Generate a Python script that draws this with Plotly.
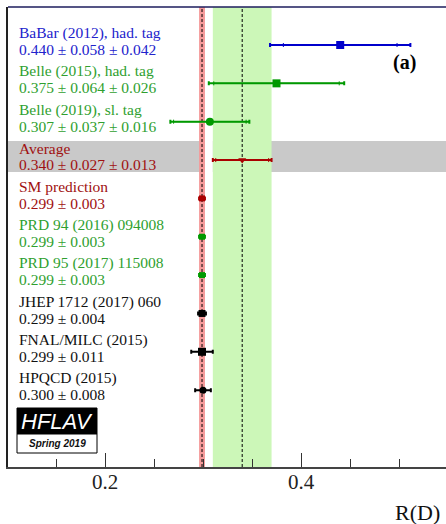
import math
import plotly.graph_objects as go

# ---------------- data ----------------
names = ["BaBar (2012), had. tag", "Belle (2015), had. tag", "Belle (2019), sl. tag",
         "Average", "SM prediction", "PRD 94 (2016) 094008", "PRD 95 (2017) 115008",
         "JHEP 1712 (2017) 060", "FNAL/MILC (2015)", "HPQCD (2015)"]
values = [0.440, 0.375, 0.307, 0.340, 0.299, 0.299, 0.299, 0.299, 0.299, 0.300]
stat = [0.058, 0.064, 0.037, 0.027, 0.003, 0.003, 0.003, 0.004, 0.011, 0.008]
syst = [0.042, 0.026, 0.016, 0.013, None, None, None, None, None, None]
text_colors = ["#2222cc", "#2f9f2f", "#2f9f2f", "#a01010", "#a01010", "#2f9f2f",
               "#2f9f2f", "#111111", "#111111", "#111111"]
mark_colors = ["#0000cc", "#009900", "#009900", "#aa0000", "#aa0000", "#009900",
               "#009900", "#000000", "#000000", "#000000"]
symbols = ["square", "square", "circle", "triangle-down", "square", "square",
           "square", "square", "square", "circle"]
msizes = [8, 8, 8, 7, 6, 6, 6, 7, 8, 7]

avg_val, avg_stat, avg_syst = 0.340, 0.027, 0.013
sm_val, sm_err = 0.299, 0.003

W, H = 446, 524
L, R, T, B = 8, 0, 7, 57
PW, PH = W - L - R, H - T - B


def px(x):
    return (x - L) / PW


def py(y):
    return (H - B - y) / PH


fig = go.Figure()

serif = "Liberation Serif, Times New Roman, serif"

for i, n in enumerate(names):
    v = values[i]
    tot = math.sqrt(stat[i] ** 2 + (syst[i] or 0) ** 2)
    fig.add_trace(go.Scatter(
        x=[v], y=[i], mode="markers",
        marker=dict(symbol=symbols[i], size=msizes[i], color=mark_colors[i]),
        error_x=dict(type="data", array=[tot], visible=True, color=mark_colors[i],
                     thickness=2, width=2),
        showlegend=False, hoverinfo="skip"))
    if syst[i] is not None:
        fig.add_trace(go.Scatter(
            x=[v], y=[i], mode="markers", marker=dict(size=1, color=mark_colors[i]),
            error_x=dict(type="data", array=[stat[i]], visible=True, color=mark_colors[i],
                         thickness=1, width=2),
            showlegend=False, hoverinfo="skip"))
        vt = f"{v:.3f} ± {stat[i]:.3f} ± {syst[i]:.3f}"
    else:
        vt = f"{v:.3f} ± {stat[i]:.3f}"
    fig.add_annotation(x=px(17), xref="paper", y=i - 0.31, yref="y", text=n,
                       xanchor="left", yanchor="middle", showarrow=False,
                       font=dict(family=serif, size=15.5, color=text_colors[i]))
    fig.add_annotation(x=px(17), xref="paper", y=i + 0.12, yref="y", text=vt,
                       xanchor="left", yanchor="middle", showarrow=False,
                       font=dict(family=serif, size=15.5, color=text_colors[i]))

avg_tot = math.sqrt(avg_stat ** 2 + avg_syst ** 2)
shapes = [
    # average row band
    dict(type="rect", xref="paper", x0=0, x1=1, yref="y", y0=2.5, y1=3.31,
         fillcolor="#c9c9c9", line_width=0, layer="below"),
    # white gap between SM band and average band
    dict(type="rect", xref="x", x0=sm_val + sm_err, x1=avg_val - avg_tot,
         yref="paper", y0=0, y1=1, fillcolor="white", line_width=0, layer="below"),
    # average band
    dict(type="rect", xref="x", x0=avg_val - avg_tot, x1=avg_val + avg_tot,
         yref="paper", y0=0, y1=1, fillcolor="#ccf7b8", line_width=0, layer="below"),
    # SM band
    dict(type="rect", xref="x", x0=sm_val - sm_err, x1=sm_val + sm_err,
         yref="paper", y0=0, y1=1, fillcolor="#f59a9a", line_width=0, layer="below"),
    dict(type="line", xref="x", x0=sm_val, x1=sm_val, yref="paper", y0=0, y1=1,
         line=dict(color="black", width=1, dash="3px,2px"), layer="below"),
    dict(type="line", xref="x", x0=avg_val, x1=avg_val, yref="paper", y0=0, y1=1,
         line=dict(color="black", width=1, dash="3px,2px"), layer="below"),
    # top border
    dict(type="line", xref="paper", x0=0, x1=1, yref="paper", y0=1, y1=1,
         line=dict(color="#1c1c5c", width=1.5)),
    # HFLAV logo
    dict(type="rect", xref="paper", x0=px(17), x1=px(97), yref="paper", y0=py(434), y1=py(408),
         fillcolor="black", line=dict(color="black", width=1)),
    dict(type="rect", xref="paper", x0=px(17), x1=px(97), yref="paper", y0=py(453), y1=py(434),
         fillcolor="white", line=dict(color="black", width=1)),
]

fig.add_annotation(x=px(57), xref="paper", y=py(421), yref="paper", text="HFLAV",
                   showarrow=False, xanchor="center", yanchor="middle",
                   font=dict(family="Liberation Sans", size=22, color="white", style="italic"))
fig.add_annotation(x=px(57), xref="paper", y=py(443.5), yref="paper", text="<b>Spring 2019</b>",
                   showarrow=False, xanchor="center", yanchor="middle",
                   font=dict(family="Liberation Sans", size=10, color="#111", style="italic"))
fig.add_annotation(x=px(404), xref="paper", y=py(63), yref="paper", text="<b>(a)</b>",
                   showarrow=False, xanchor="center", yanchor="middle",
                   font=dict(family=serif, size=20, color="black"))
fig.add_annotation(x=px(393), xref="paper", y=py(512), yref="paper", text="R(D)",
                   showarrow=False, xanchor="left", yanchor="middle",
                   font=dict(family=serif, size=22, color="#111111"))

x0 = 0.2 - (105 - L) / 980
x1 = x0 + PW / 980
fig.update_layout(
    width=W, height=H, margin=dict(l=L, r=R, t=T, b=B),
    paper_bgcolor="white", plot_bgcolor="white",
    shapes=shapes,
    xaxis=dict(range=[x0, x1], dtick=0.2, tick0=0, ticks="inside", ticklen=14,
               tickcolor="#333", tickwidth=1.2, showgrid=False, zeroline=False,
               showline=True, linecolor="#444", linewidth=1.5, ticklabelstandoff=-5,
               tickfont=dict(family=serif, size=21, color="#222"),
               minor=dict(dtick=0.05, tick0=0, ticks="inside", ticklen=8,
                          tickcolor="#333", tickwidth=1.2, showgrid=False)),
    yaxis=dict(range=[(H - B - 45) / 38.35, -(45 - T) / 38.35], showticklabels=False,
               ticks="", showgrid=False, zeroline=False, showline=True,
               linecolor="#222", linewidth=1.5),
)

fig.write_html("out.html")
